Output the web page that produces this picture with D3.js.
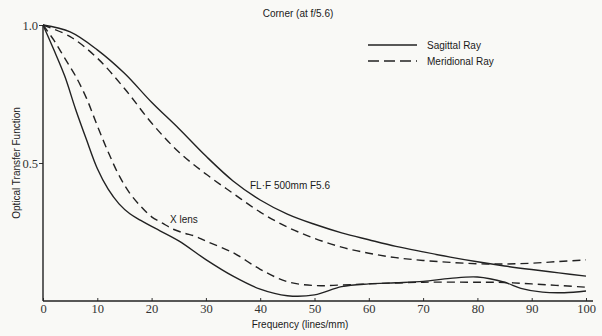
<!DOCTYPE html>
<html>
<head>
<meta charset="utf-8">
<script src="https://cdn.jsdelivr.net/npm/d3@7"></script>
<style>
  body { margin: 0; background: #f9f9f6; }
  svg { display: block; }
  .tick-label { font-family: "Liberation Serif", serif; font-size: 12.5px; fill: #333; }
  .lbl { font-family: "Liberation Sans", Arial, sans-serif; font-size: 10px; fill: #1a1a1a; }
</style>
</head>
<body>
<div id="chart"></div>
<script>
var width = 602,
    height = 336;

// FL-F 500mm F5.6, sagittal (solid) and meridional (dashed)
var flfX = [0, 5, 10, 15, 20, 25, 30, 35, 40, 45, 50, 55, 60, 65, 70, 75, 80, 85, 90, 95, 100];
var flfSag = [1.0, 0.975, 0.91, 0.825, 0.72, 0.625, 0.525, 0.435, 0.366, 0.315, 0.278, 0.247, 0.222, 0.198, 0.178, 0.159, 0.142, 0.127, 0.114, 0.102, 0.09];
var flfMer = [1.0, 0.958, 0.88, 0.77, 0.645, 0.54, 0.46, 0.39, 0.322, 0.268, 0.227, 0.195, 0.173, 0.157, 0.147, 0.14, 0.135, 0.134, 0.137, 0.143, 0.149];

// X lens
var xSagX = [0, 2, 4, 6, 8, 10, 12, 14, 16, 18, 20, 25, 30, 35, 40, 45, 50, 55, 60, 65, 70, 75, 80, 85, 88, 92, 96, 100];
var xSag = [1.0, 0.91, 0.815, 0.695, 0.585, 0.48, 0.405, 0.352, 0.316, 0.292, 0.27, 0.218, 0.15, 0.09, 0.043, 0.019, 0.022, 0.052, 0.062, 0.066, 0.071, 0.082, 0.087, 0.068, 0.046, 0.032, 0.03, 0.036];
var xMerX = [0, 2, 4, 6, 8, 10, 12, 14, 16, 18, 20, 22, 24, 26, 28, 30, 35, 40, 45, 50, 55, 60, 70, 80, 85, 90, 100];
var xMer = [1.0, 0.945, 0.88, 0.815, 0.735, 0.635, 0.54, 0.455, 0.39, 0.343, 0.305, 0.282, 0.26, 0.246, 0.235, 0.217, 0.175, 0.115, 0.07, 0.056, 0.058, 0.062, 0.068, 0.068, 0.067, 0.062, 0.05];

var xTicks = [0, 10, 20, 30, 40, 50, 60, 70, 80, 90, 100];
var yTicks = [0.5, 1.0];

var x = d3.scaleLinear().domain([0, 100]).range([43, 586]);
var y = d3.scaleLinear().domain([0, 1]).range([301, 25]);

var svg = d3.select('#chart').append('svg')
    .attr('width', width)
    .attr('height', height);

// axes
var xAxis = d3.axisBottom(x).tickValues(xTicks).tickSize(-3).tickPadding(8).tickFormat(d3.format('d'));
var gx = svg.append('g').attr('transform', 'translate(0,' + y(0) + ')').call(xAxis);
gx.select('.domain').remove();
gx.append('line').attr('x1', x(0)).attr('x2', 593).attr('stroke', '#222').attr('stroke-width', 1.4);
gx.selectAll('.tick line').attr('stroke', '#333');
gx.selectAll('.tick text').attr('class', 'tick-label').attr('fill', '#333').attr('dy', '0.35em');

var yAxis = d3.axisLeft(y).tickValues(yTicks).tickSize(4).tickPadding(1).tickFormat(d3.format('.1f'));
var gy = svg.append('g').attr('transform', 'translate(' + x(0) + ',0)').call(yAxis);
gy.select('.domain').remove();
gy.append('line').attr('y1', y(0)).attr('y2', y(1)).attr('stroke', '#222').attr('stroke-width', 1.4);
gy.selectAll('.tick line').attr('stroke', '#333');
gy.selectAll('.tick text').attr('class', 'tick-label').attr('fill', '#333');

// curves
var line = d3.line().curve(d3.curveCatmullRom.alpha(0.5));
function drawCurve(xs, ys, dashed) {
  svg.append('path')
    .attr('d', line(xs.map(function(d, i){ return [x(d), y(ys[i])]; })))
    .attr('fill', 'none')
    .attr('stroke', '#222')
    .attr('stroke-width', 1.4)
    .attr('stroke-dasharray', dashed ? '8,5' : null);
}
drawCurve(flfX, flfSag, false);
drawCurve(flfX, flfMer, true);
drawCurve(xSagX, xSag, false);
drawCurve(xMerX, xMer, true);

// titles and labels
svg.append('text').attr('class', 'lbl').attr('x', 298).attr('y', 17).attr('text-anchor', 'middle').text('Corner (at f/5.6)');
svg.append('text').attr('class', 'lbl').attr('x', 300).attr('y', 328).attr('text-anchor', 'middle').text('Frequency (lines/mm)');
svg.append('text').attr('class', 'lbl')
  .attr('transform', 'translate(20,' + y(0.5) + ') rotate(-90)')
  .attr('text-anchor', 'middle').text('Optical Transfer Function');

svg.append('text').attr('class', 'lbl').attr('x', 250).attr('y', 189).text('FL\u00b7F 500mm F5.6');
svg.append('text').attr('class', 'lbl').attr('x', 170).attr('y', 223).text('X lens');

// legend
var legend = [['Sagittal Ray', false, 45], ['Meridional Ray', true, 61]];
legend.forEach(function(l){
  svg.append('line').attr('x1', 368).attr('x2', 417).attr('y1', l[2]).attr('y2', l[2])
    .attr('stroke', '#222').attr('stroke-width', 1.3)
    .attr('stroke-dasharray', l[1] ? '11,5' : null);
  svg.append('text').attr('class', 'lbl').attr('x', 427).attr('y', l[2] + 3.5).text(l[0]);
});
</script>
</body>
</html>
